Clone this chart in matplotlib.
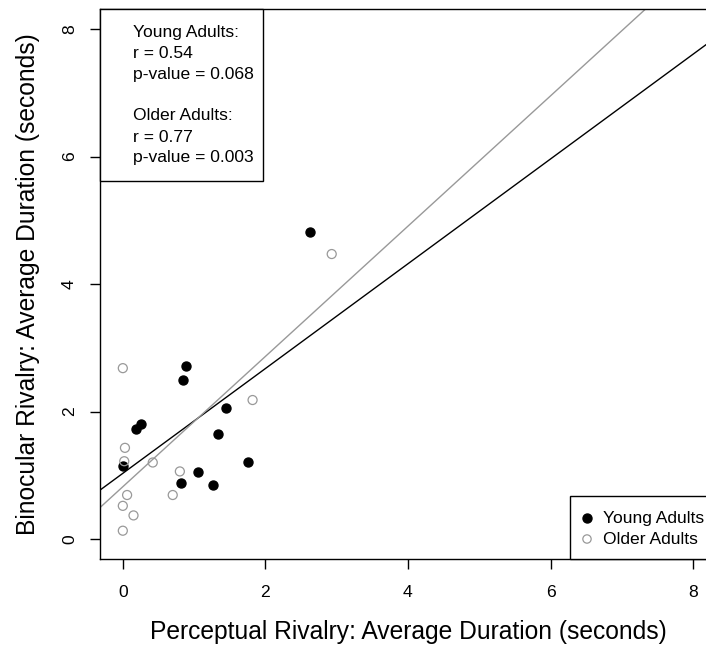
import matplotlib
matplotlib.use("Agg")
import matplotlib.pyplot as plt
from matplotlib.patches import Rectangle

plt.rcParams["font.family"] = ["Liberation Sans", "DejaVu Sans"]

# Dados (segundos)
young_x = [0.89, 0.84, 0.25, 0.19, 0.00, 1.45, 1.34, 1.75, 1.05, 0.81, 1.27, 2.63]
young_y = [2.71, 2.50, 1.81, 1.73, 1.15, 2.05, 1.64, 1.21, 1.05, 0.88, 0.84, 4.82]

older_x = [0.00, 0.03, 0.02, 0.42, 0.80, 1.82, 0.06, 0.70, 0.00, 0.15, 0.00, 2.93]
older_y = [2.68, 1.43, 1.22, 1.20, 1.06, 2.18, 0.69, 0.69, 0.52, 0.37, 0.13, 4.47]

# retas de regressão (intercepto, inclinação)
young_fit = (1.03, 0.822)
older_fit = (0.82, 1.022)

ticks = [0, 2, 4, 6, 8]
stats_lines = ["Young Adults:", "r = 0.54", "p-value = 0.068", "",
               "Older Adults:", "r = 0.77", "p-value = 0.003"]
groups = ["Young Adults", "Older Adults"]

GRAY = "#999999"

fig = plt.figure(figsize=(7.06, 6.5), dpi=100)
# a caixa do gráfico passa um pouco da borda direita, como no original
ax = fig.add_axes([100 / 706, 1 - 559.4 / 650, 616 / 706, 550.8 / 650])

ax.scatter(young_x, young_y, s=42, color="black", zorder=3)
ax.scatter(older_x, older_y, s=42, facecolors="none", edgecolors=GRAY,
           linewidths=0.9, zorder=3)

ax.axline((0, young_fit[0]), slope=young_fit[1], color="black", lw=1.0)
ax.axline((0, older_fit[0]), slope=older_fit[1], color=GRAY, lw=1.0)

ax.set_xlim(-0.32, 8.32)
ax.set_ylim(-0.32, 8.32)
ax.set_xticks(ticks)
ax.set_yticks(ticks)
ax.tick_params(axis="both", direction="out", length=7.5, width=1.0,
               labelsize=12.6)
ax.tick_params(axis="x", pad=11)
ax.tick_params(axis="y", pad=9)
for lab in ax.get_yticklabels():
    lab.set_rotation(90)
    lab.set_va("center")
for sp in ax.spines.values():
    sp.set_linewidth(1.0)

ax.set_xlabel("Perceptual Rivalry: Average Duration (seconds)",
              fontsize=17.7, va="center")
ax.xaxis.set_label_coords(0.5, -0.1318)
ax.set_ylabel("Binocular Rivalry: Average Duration (seconds)",
              fontsize=17.7, va="center")
ax.yaxis.set_label_coords(-0.117, 0.5)

# caixa com as estatísticas (canto superior esquerdo)
ax.add_patch(Rectangle((0, 0.687), 0.2646, 0.313, transform=ax.transAxes,
                       fill=True, facecolor="white", edgecolor="black",
                       lw=1.0, zorder=4, clip_on=False))
dy = 21 / 550.8
y0 = 1 - (32 - 8.6) / 550.8
for i, linha in enumerate(stats_lines):
    ax.text(0.0536, y0 - i * dy, linha, transform=ax.transAxes,
            fontsize=12.6, va="center", ha="left", zorder=5)

# legenda (canto inferior direito)
ax.add_patch(Rectangle((0.763, 0), 0.237, 0.115, transform=ax.transAxes,
                       facecolor="white", edgecolor="black", lw=1.0,
                       zorder=4, clip_on=False))
leg_y = [(559.4 - 518) / 550.8, (559.4 - 539) / 550.8]
mx = (587 - 100) / 616
tx = (603 - 100) / 616
ax.scatter([mx], [leg_y[0]], s=42, color="black", transform=ax.transAxes,
           zorder=5, clip_on=False)
ax.scatter([mx], [leg_y[1]], s=36, facecolors="none", edgecolors=GRAY,
           linewidths=0.9, transform=ax.transAxes, zorder=5, clip_on=False)
for yy, nome in zip(leg_y, groups):
    ax.text(tx, yy, nome, transform=ax.transAxes, fontsize=12.6,
            va="center", ha="left", zorder=5)

fig.savefig("out.png", dpi=100)
